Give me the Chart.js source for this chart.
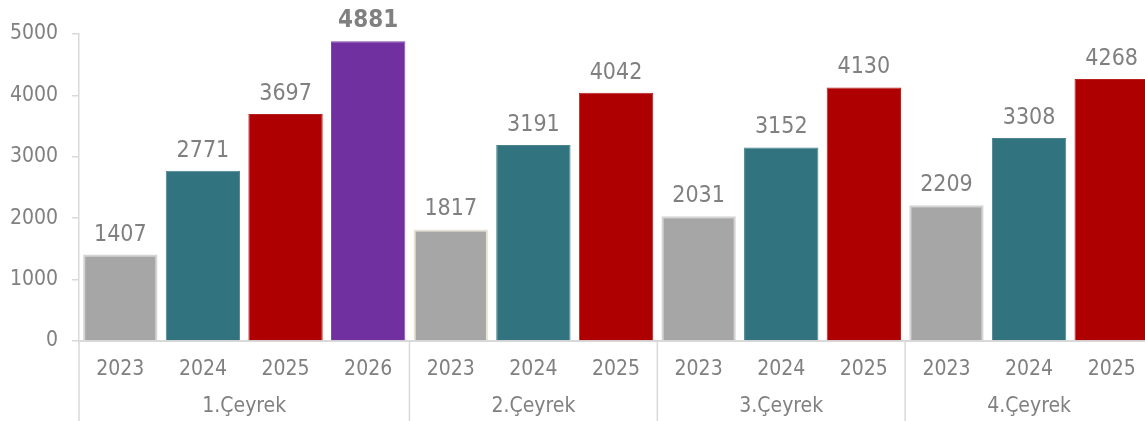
<!DOCTYPE html>
<html>
<head>
<meta charset="utf-8">
<script src="https://cdn.jsdelivr.net/npm/chart.js@4"></script>
<style>
    html, body { margin: 0; padding: 0; background: #fff; overflow: hidden; }
    #wrap { width: 1153px; height: 421px; }
</style>
</head>
<body>
<div id="wrap"><canvas id="barChart" width="1153" height="421"></canvas></div>
<script>
const quarters = ['1.Çeyrek', '2.Çeyrek', '3.Çeyrek', '4.Çeyrek'];
const years = ['2023', '2024', '2025', '2026'];
const values2023 = [1407, 1817, 2031, 2209];
const values2024 = [2771, 3191, 3152, 3308];
const values2025 = [3697, 4042, 4130, 4268];
const values2026 = [4881, null, null, null];
const yTicks = [0, 1000, 2000, 3000, 4000, 5000];

const FONT = '"DejaVu Sans Condensed", "DejaVu Sans", Verdana, sans-serif';
const yearColors = { '2023': '#a6a6a6', '2024': '#31737f', '2025': '#ae0000', '2026': '#7030a0' };
const yearBorders = { '2023': '#d4d4d4', '2024': '#4a828d', '2025': '#b82020', '2026': '#8048b0' };

// flatten quarters x years into one category list
const series = [values2023, values2024, values2025, values2026];
const labels = [];
const data = [];
const groupOf = [];
quarters.forEach((q, qi) => {
    years.forEach((y, yi) => {
        const v = series[yi][qi];
        if (v === null) return;
        labels.push(y);
        data.push(v);
        groupOf.push(qi);
    });
});
const bg = labels.map(y => yearColors[y]);
const bd = labels.map((y, i) => (y === '2023' && groupOf[i] === 1) ? '#e6e2d2' : yearBorders[y]);
const bw = labels.map(y => y === '2023' ? 2 : 1);

const valueLabels = {
    id: 'valueLabels',
    afterDatasetsDraw(chart) {
        const ctx = chart.ctx;
        const meta = chart.getDatasetMeta(0);
        ctx.save();
        ctx.textAlign = 'center';
        ctx.textBaseline = 'alphabetic';
        meta.data.forEach((bar, i) => {
            const bold = labels[i] === '2026';
            ctx.font = bold ? 'bold 24px ' + FONT : '23px ' + FONT;
            ctx.fillStyle = '#808080';
            ctx.fillText(String(data[i]), bar.x, bar.y - 14);
        });
        ctx.restore();
    }
};

const groupAxis = {
    id: 'groupAxis',
    afterDraw(chart) {
        const ctx = chart.ctx;
        const x = chart.scales.x;
        const area = chart.chartArea;
        const half = (x.getPixelForValue(1) - x.getPixelForValue(0)) / 2;
        ctx.save();
        ctx.strokeStyle = '#d9d9d9';
        ctx.lineWidth = 1.5;
        // left edge continues below the axis
        ctx.beginPath();
        ctx.moveTo(area.left, area.bottom);
        ctx.lineTo(area.left, chart.height);
        ctx.stroke();
        ctx.font = '21px ' + FONT;
        ctx.fillStyle = '#808080';
        ctx.textAlign = 'center';
        ctx.textBaseline = 'middle';
        quarters.forEach((q, qi) => {
            const idx = groupOf.map((g, i) => g === qi ? i : -1).filter(i => i >= 0);
            const start = x.getPixelForValue(idx[0]) - half;
            const end = x.getPixelForValue(idx[idx.length - 1]) + half;
            if (qi > 0) {
                ctx.beginPath();
                ctx.moveTo(start, area.bottom);
                ctx.lineTo(start, chart.height);
                ctx.stroke();
            }
            ctx.fillText(q, (start + end) / 2, 407);
        });
        ctx.restore();
    }
};

new Chart(document.getElementById('barChart').getContext('2d'), {
    type: 'bar',
    data: {
        labels: labels,
        datasets: [{
            data: data,
            backgroundColor: bg,
            borderColor: bd,
            borderWidth: bw,
            borderSkipped: 'bottom',
            barPercentage: 0.9,
            categoryPercentage: 1.0
        }]
    },
    options: {
        responsive: false,
        animation: false,
        layout: { padding: { top: 34, left: 0, right: 0, bottom: 0 } },
        plugins: { legend: { display: false }, tooltip: { enabled: false } },
        scales: {
            x: {
                offset: true,
                grid: { display: false },
                border: { color: '#d9d9d9', width: 2 },
                ticks: {
                    color: '#808080',
                    font: { family: FONT, size: 21 },
                    padding: 8,
                    maxRotation: 0,
                    autoSkip: false
                },
                afterFit: (scale) => { scale.height = 80; }
            },
            y: {
                min: 0,
                max: 5000,
                afterBuildTicks: (scale) => { scale.ticks = yTicks.map(v => ({ value: v })); },
                grid: { drawOnChartArea: false, drawTicks: true, tickLength: 7, color: '#d9d9d9', lineWidth: 1.5 },
                border: { color: '#d9d9d9', width: 1.5 },
                ticks: {
                    color: '#808080',
                    font: { family: FONT, size: 21 },
                    padding: 14,
                    callback: (v) => String(v)
                },
                afterFit: (scale) => { scale.width = 79; }
            }
        }
    },
    plugins: [valueLabels, groupAxis]
});
</script>
</body>
</html>
